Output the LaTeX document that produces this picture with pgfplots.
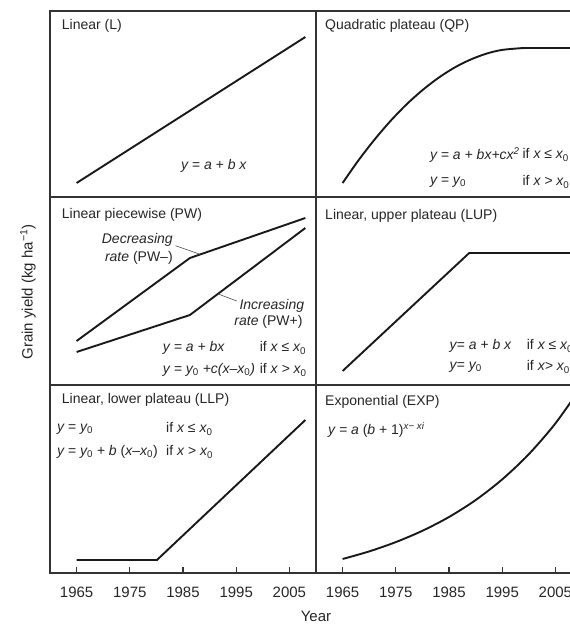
\documentclass[border=0pt]{standalone}
\usepackage{fontspec}
\setmainfont{Liberation Sans}
\usepackage{pgfplots}
\pgfplotsset{compat=1.18}
\newcommand{\sub}[1]{\textsubscript{\upshape #1}}
\pgfplotsset{
  panel/.style={
    scale only axis, width=266pt, anchor=south west,
    xmin=1960, xmax=2010, ymin=0,
    xtick=\empty, ytick=\empty,
    axis line style={line width=1.7pt, black!80},
    clip=false,
    nodes={font=\fontsize{14}{16}\selectfont, text=black!85, inner sep=0pt},
  },
  curve/.style={line width=1.9pt, black!90, no marks},
  bottompanel/.style={
    xtick={1965,1975,...,2005},
    xtick pos=bottom, tick align=inside,
    major tick length=6pt,
    tick style={line width=1.3pt, black!80},
    /pgf/number format/assume math mode=true,
    /pgf/number format/set thousands separator={},
    xticklabel style={font=\fontsize{15}{17}\selectfont, text=black!85, yshift=-14pt},
  },
}
\begin{document}
\begin{tikzpicture}
% ---------- top left: Linear
\begin{axis}[panel, at={(50pt,428pt)}, height=186pt, ymax=186]
\addplot[curve] coordinates {(1965,14) (2008,160)};
\node[anchor=west] at (axis cs:1962.2,171) {Linear (L)};
\node[anchor=west] at (axis cs:1984.6,31) {\itshape y = a + b x};
\end{axis}
% ---------- top right: Quadratic plateau
\begin{axis}[panel, at={(316pt,428pt)}, height=186pt, ymax=186]
\addplot[curve, smooth] coordinates {(1965,14) (1968,36.8) (1971,57.4) (1974,76.0) (1977,92.5) (1980,106.8) (1983,119.1) (1986,129.3) (1989,137.3) (1992,143.3) (1995,147.1) (1999,149)};
\addplot[curve] coordinates {(1999,149) (2010,149)};
\node[anchor=west] at (axis cs:1961.7,171) {Quadratic plateau (QP)};
\node[anchor=west] at (axis cs:1981.4,42) {\itshape y = a + bx+cx\textsuperscript{2}};
\node[anchor=west] at (axis cs:1998.8,42) {if \itshape x ≤ x\sub{0}};
\node[anchor=west] at (axis cs:1981.4,15) {\itshape y = y\sub{0}};
\node[anchor=west] at (axis cs:1998.8,15) {if \itshape x > x\sub{0}};
\end{axis}
% ---------- middle left: Linear piecewise
\begin{axis}[panel, at={(50pt,240pt)}, height=188pt, ymax=188]
\addplot[curve] coordinates {(1965,44) (1986.3,127) (2008,167)};
\addplot[curve] coordinates {(1965,33) (1986.3,70) (2008,157)};
\node[anchor=west] at (axis cs:1962.2,170) {Linear piecewise (PW)};
\node[anchor=east] at (axis cs:1983.1,145) {\itshape Decreasing};
\node[anchor=east] at (axis cs:1983.1,127) {\itshape rate \upshape(PW–)};
\draw[line width=0.6pt, black!70] (axis cs:1983.6,139.3) -- (axis cs:1988.2,130.7);
\node[anchor=east] at (axis cs:2007.8,79) {\itshape Increasing};
\node[anchor=east] at (axis cs:2007.5,63) {\itshape rate \upshape(PW+)};
\draw[line width=0.6pt, black!70] (axis cs:1991.6,91) -- (axis cs:1995.1,84);
\node[anchor=west] at (axis cs:1981.2,37) {\itshape y = a + bx};
\node[anchor=west] at (axis cs:1999.4,37) {if \itshape x ≤ x\sub{0}};
\node[anchor=west] at (axis cs:1981.2,15) {\itshape y = y\sub{0} +c(x–x\sub{0})};
\node[anchor=west] at (axis cs:1999.4,15) {if \itshape x > x\sub{0}};
\end{axis}
% ---------- middle right: Linear upper plateau
\begin{axis}[panel, at={(316pt,240pt)}, height=188pt, ymax=188]
\addplot[curve] coordinates {(1965,14) (1988.8,132) (2010,132)};
\node[anchor=west] at (axis cs:1961.7,169) {Linear, upper plateau (LUP)};
\node[anchor=west] at (axis cs:1985.1,39) {\itshape y= a + b x};
\node[anchor=west] at (axis cs:1999.6,39) {if \itshape x ≤ x\sub{0}};
\node[anchor=west] at (axis cs:1985.1,18) {\itshape y= y\sub{0}};
\node[anchor=west] at (axis cs:1999.6,18) {if \itshape x> x\sub{0}};
\end{axis}
% ---------- bottom left: Linear lower plateau
\begin{axis}[panel, bottompanel, at={(50pt,52pt)}, height=188pt, ymax=188]
\addplot[curve] coordinates {(1965,13) (1980.1,13) (2008,153)};
\node[anchor=west] at (axis cs:1962.2,173) {Linear, lower plateau (LLP)};
\node[anchor=west] at (axis cs:1961.3,144) {\itshape y = y\sub{0}};
\node[anchor=west] at (axis cs:1981.8,144) {if \itshape x ≤ x\sub{0}};
\node[anchor=west] at (axis cs:1961.3,121) {\itshape y = y\sub{0} + b \upshape(\itshape x–x\sub{0}\upshape)};
\node[anchor=west] at (axis cs:1981.8,121) {if \itshape x > x\sub{0}};
\end{axis}
% ---------- bottom right: Exponential
\begin{axis}[panel, bottompanel, at={(316pt,52pt)}, height=188pt, ymax=188]
\addplot[curve, smooth] coordinates {(1965,14) (1970,21.6) (1975,30.9) (1980,42.2) (1985,56.0) (1990,72.9) (1995,93.6) (2000,118.8) (2005,149.6) (2010,187.2)};
\node[anchor=west] at (axis cs:1961.7,171) {Exponential (EXP)};
\node[anchor=west] at (axis cs:1962.25,143) {\itshape y = a \upshape(\itshape b \upshape+ 1)\textsuperscript{\itshape x− xi}};
\end{axis}
% ---------- labels
\node[font=\fontsize{15}{17}\selectfont, text=black!85] at (316pt,9pt) {Year};
\node[font=\fontsize{15}{17}\selectfont, text=black!85, rotate=90] at (28pt,333pt) {Grain yield (kg ha\textsuperscript{−1})};
\pgfresetboundingbox
\useasboundingbox (0pt,0pt) rectangle (570pt,625pt);
\end{tikzpicture}
\end{document}
